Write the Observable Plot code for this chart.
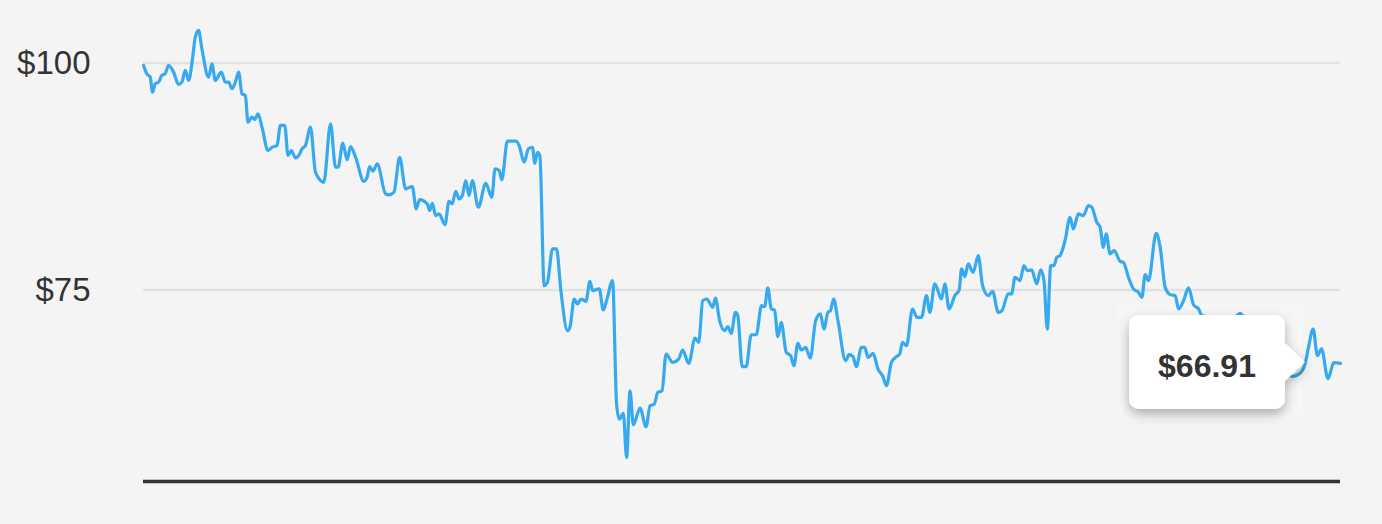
<!DOCTYPE html>
<html>
<head>
<meta charset="utf-8">
<script src="https://cdn.jsdelivr.net/npm/d3@7"></script>
<script src="https://cdn.jsdelivr.net/npm/@observablehq/plot@0.6"></script>
<style>
  html, body { margin: 0; padding: 0; background: #f4f4f4; }
  #chart svg { display: block; }
</style>
</head>
<body>
<div id="chart"></div>
<script>
// Trading-day index (0 = first day shown) of each turning point
const days = [
  0, 0.66, 1.34, 1.8, 2.34, 3.0, 3.66, 4.34, 5.0, 6.0, 7.0, 7.66, 8.34, 9.0, 9.66, 10.34, 11.0, 11.66, 13.0, 13.66,
  14.34, 15.54, 16.34, 17.0, 17.66, 18.34, 19.0, 19.66, 20.34, 20.86, 21.66, 22.2, 22.86, 23.66, 24.86, 25.66, 26.66, 27.34, 28.2, 28.86,
  29.54, 30.34, 31.0, 31.66, 32.34, 33.34, 34.34, 36.0, 37.34, 38.34, 38.86, 39.8, 40.66, 41.34, 42.34, 44.0, 44.66, 45.14, 45.8, 46.66,
  48.34, 49.0, 50.0, 51.14, 52.34, 53.66, 54.46, 55.14, 56.66, 57.14, 57.66, 58.34, 59.0, 60.2, 61.0, 61.66, 62.34, 63.0, 63.66, 64.34,
  65.0, 65.66, 66.86, 68.34, 69.54, 70.2, 71.0, 71.54, 72.66, 74.34, 75.0, 76.0, 76.86, 77.66, 78.14, 78.66, 79.14, 80.0, 80.66, 81.66,
  82.46, 83.34, 84.66, 85.14, 86.0, 86.66, 87.34, 88.34, 89.14, 89.66, 91.0, 91.8, 92.46, 93.66, 94.46, 95.0, 95.8, 96.46, 97.14, 97.8,
  99.14, 100.34, 101.14, 102.0, 102.66, 103.54, 104.34, 105.66, 106.86, 107.66, 108.86, 110.14, 110.86, 111.66, 112.46, 113.66, 114.2, 115.0, 116.0, 116.66,
  117.34, 118.2, 118.66, 119.54, 120.34, 121.34, 122.34, 123.4, 124.0, 124.66, 125.34, 126.0, 126.66, 127.34, 128.34, 129.2, 129.86, 130.66, 131.34, 132.2,
  133.14, 134.2, 135.14, 135.86, 136.66, 137.14, 137.8, 138.66, 140.2, 140.86, 141.66, 142.34, 143.34, 144.0, 144.66, 145.66, 146.66, 147.66, 148.34, 149.34,
  150.34, 151.0, 151.54, 152.34, 153.54, 154.46, 155.34, 156.34, 157.0, 158.0, 159.34, 160.0, 160.86, 162.0, 162.86, 163.34, 164.0, 164.66, 165.66, 166.66,
  167.54, 168.66, 169.54, 170.66, 171.4, 172.66, 173.34, 174.0, 175.0, 175.8, 176.46, 177.34, 178.34, 179.14, 179.8, 180.46, 181.14, 181.8, 182.34, 183.0,
  184.0, 185.0, 185.66, 186.66, 187.66, 188.66, 189.34, 190.34, 191.0, 191.66, 192.2, 193.0, 193.8, 195.0, 195.66, 196.66, 197.66, 198.66, 199.34, 200.0,
  200.66, 202.2, 203.0, 204.0, 205.0, 206.0, 206.66, 207.66, 208.66, 209.66, 210.66, 211.34, 212.4, 214.0, 216.0, 218.0, 219.0, 219.6, 221.0, 223.4,
  226.0, 228.0, 229.4, 231.0, 232.0, 232.6, 233.54, 234.4, 235.2, 236.5, 237.66, 239.0
];
// Closing price (USD) at each of those days
const prices = [
  99.75, 98.83, 98.46, 96.80, 97.73, 97.90, 98.64, 98.83, 99.75, 99.01, 97.65, 97.90, 99.19, 98.09, 99.93, 102.87, 103.61, 101.59, 98.46, 99.93,
  98.09, 99.01, 97.90, 97.90, 97.18, 97.90, 99.01, 96.62, 96.44, 93.49, 94.04, 93.79, 94.42, 92.94, 90.37, 90.73, 90.92, 93.13, 93.13, 89.82,
  90.37, 89.57, 89.82, 90.56, 90.92, 92.94, 87.98, 86.87, 93.32, 88.53, 88.53, 91.18, 89.34, 90.81, 89.63, 86.98, 87.43, 88.61, 88.09, 88.90,
  85.59, 85.48, 85.77, 89.63, 86.15, 86.40, 83.94, 84.97, 84.49, 83.75, 84.56, 83.20, 83.39, 82.21, 84.78, 84.49, 85.88, 85.04, 85.41, 87.06,
  85.41, 87.06, 84.12, 86.76, 85.22, 88.35, 88.16, 87.14, 91.40, 91.40, 90.92, 89.08, 90.56, 90.73, 88.97, 90.18, 89.82, 75.48, 75.84, 79.53,
  79.53, 74.93, 70.52, 70.88, 74.01, 73.46, 74.01, 73.75, 75.95, 74.93, 75.12, 72.80, 73.83, 76.03, 62.43, 60.78, 61.40, 56.54, 63.90, 60.15,
  61.99, 59.93, 62.24, 62.43, 63.71, 63.90, 67.95, 67.02, 67.40, 68.39, 66.91, 69.71, 69.23, 73.83, 74.01, 73.09, 74.12, 71.70, 70.52, 70.96,
  70.22, 72.54, 72.17, 66.55, 66.55, 70.07, 70.07, 73.27, 73.16, 75.23, 72.91, 72.80, 69.86, 71.43, 68.12, 67.76, 66.66, 69.12, 68.39, 68.67,
  67.50, 71.62, 72.36, 70.70, 72.54, 72.72, 74.01, 71.62, 67.21, 67.87, 67.65, 66.55, 68.67, 68.67, 67.57, 68.01, 66.29, 65.44, 64.45, 67.02,
  67.65, 67.95, 69.23, 68.86, 72.91, 71.98, 71.98, 74.38, 72.54, 75.67, 74.01, 75.67, 72.91, 74.38, 75.01, 77.32, 76.47, 77.87, 76.95, 78.79,
  75.48, 74.38, 74.85, 72.54, 72.72, 74.57, 74.57, 76.40, 76.03, 77.69, 77.13, 77.21, 75.67, 77.21, 76.03, 70.70, 77.69, 77.69, 78.60, 78.79,
  80.44, 83.01, 81.73, 83.39, 83.20, 84.30, 84.12, 82.46, 81.91, 79.70, 81.18, 78.98, 79.34, 78.16, 78.05, 76.40, 75.12, 74.74, 74.19, 76.69,
  76.03, 81.25, 79.70, 75.29, 74.49, 74.38, 72.91, 73.83, 75.23, 73.38, 72.91, 72.17, 72.06, 71.84, 71.62, 72.06, 72.42, 72.06, 71.07, 69.63,
  68.09, 66.24, 65.47, 65.87, 67.02, 68.67, 70.70, 67.76, 68.53, 65.22, 66.99, 66.91
];
const yTicks = [75, 100];
const yDomain = [53.9, 106.9];
const xDomain = [0, 239];

const data = days.map((d, i) => ({day: d, price: prices[i]}));
const last = data[data.length - 1];

const W = 1382, H = 524;
const chart = Plot.plot({
  width: W,
  height: H,
  marginLeft: 143,
  marginRight: 42,
  marginTop: 0,
  marginBottom: 43,
  style: {background: "#f4f4f4", color: "#333", fontFamily: "'Liberation Sans', Arial, Helvetica, sans-serif"},
  x: {domain: xDomain, axis: null},
  y: {domain: yDomain, label: null},
  marks: [
    Plot.gridY(yTicks, {stroke: "#e2e2e2", strokeOpacity: 1, strokeWidth: 2.5}),
    Plot.axisY(yTicks, {tickSize: 0, tickPadding: 53, tickFormat: d => "$" + d, fontSize: 33, fill: "#333", label: null}),
    Plot.ruleY([yDomain[0]], {stroke: "#333", strokeWidth: 3.5}),
    Plot.line(data, {x: "day", y: "price", stroke: "#36a9f0", strokeWidth: 3.2, curve: "monotone-x"})
  ]
});

document.getElementById("chart").appendChild(chart);

// Tooltip anchored to the last data point
const sx = chart.scale("x"), sy = chart.scale("y");
const px = sx.apply(last.day), py = sy.apply(last.price);
const svg = d3.select(chart);
const defs = svg.append("defs");
const f = defs.append("filter").attr("id", "tipShadow").attr("x", "-30%").attr("y", "-30%").attr("width", "160%").attr("height", "170%");
f.append("feDropShadow").attr("dx", 0).attr("dy", 5).attr("stdDeviation", 6).attr("flood-color", "#000").attr("flood-opacity", 0.3);

const tipX = px - 35, tipY = py - 1;
const arrowLen = 20, arrowHalf = 19, boxW = 156, boxH = 94, r = 10;
const x1 = tipX - arrowLen, x0 = x1 - boxW;
const y0 = tipY - boxH / 2, y1 = tipY + boxH / 2;

// faint backdrop of the tooltip container, beneath the line
const g = svg.append("g");
g.append("rect").attr("x", x0 - 12).attr("y", y0 - 12).attr("width", tipX - 3 - (x0 - 12)).attr("height", boxH + 24)
  .attr("fill", "#f6f6f6");
chart.insertBefore(g.node(), chart.querySelector("g[aria-label='line']"));

const tip = svg.append("g");
tip.append("path")
  .attr("d", `M${x0 + r},${y0} H${x1 - r} A${r},${r} 0 0 1 ${x1},${y0 + r} V${tipY - arrowHalf} L${tipX},${tipY} L${x1},${tipY + arrowHalf} V${y1 - r} A${r},${r} 0 0 1 ${x1 - r},${y1} H${x0 + r} A${r},${r} 0 0 1 ${x0},${y1 - r} V${y0 + r} A${r},${r} 0 0 1 ${x0 + r},${y0} Z`)
  .attr("fill", "#fff")
  .attr("filter", "url(#tipShadow)");
tip.append("text")
  .attr("x", (x0 + x1) / 2)
  .attr("y", tipY + 15)
  .attr("text-anchor", "middle")
  .attr("font-size", 32)
  .attr("font-weight", "bold")
  .attr("font-family", "'Liberation Sans', Arial, Helvetica, sans-serif")
  .attr("fill", "#333")
  .text("$" + last.price.toFixed(2));
</script>
</body>
</html>
